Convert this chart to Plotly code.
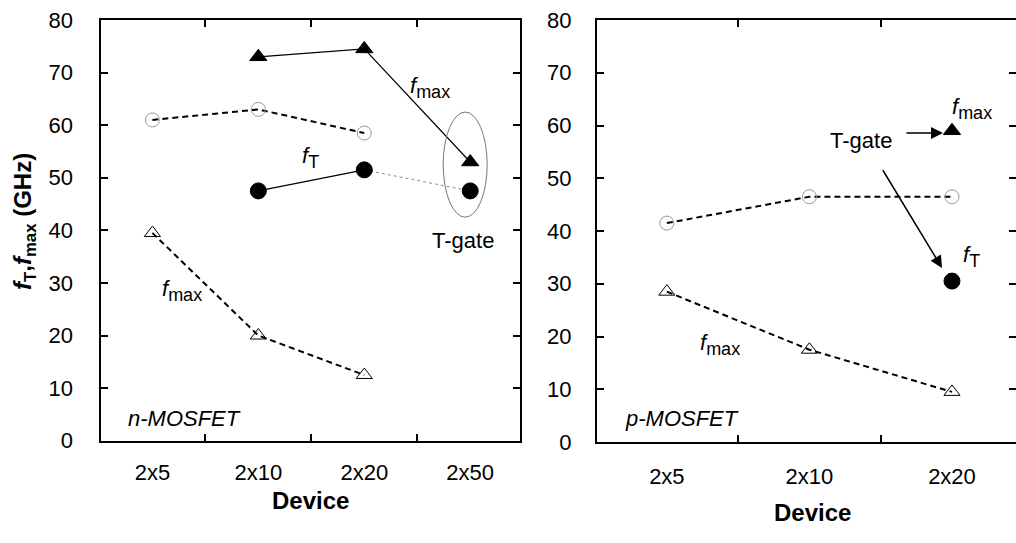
import plotly.graph_objects as go

# ---- data ----
n_devices = ["2x5", "2x10", "2x20", "2x50"]
n_ft_std_x = ["2x5", "2x10", "2x20"]
n_ft_std = [61, 63, 58.5]
n_fmax_std = [39.5, 20, 12.5]
n_fmax_t_x = ["2x10", "2x20", "2x50"]
n_fmax_t = [73, 74.5, 53]
n_ft_t_x = ["2x10", "2x20"]
n_ft_t = [47.5, 51.5]
n_ft_tg_x = ["2x20", "2x50"]
n_ft_tg = [51.5, 47.5]

p_devices = ["2x5", "2x10", "2x20"]
p_ft_std = [41.5, 46.5, 46.5]
p_fmax_std = [28.5, 17.5, 9.5]
p_tgate_x = ["2x20"]
p_fmax_t = [59]
p_ft_t = [30.5]

yticks = [0, 10, 20, 30, 40, 50, 60, 70, 80]

FONT = "Liberation Sans, Arial, Helvetica, sans-serif"
DASH = "6px,4px"
W, H = 1016, 543

fig = go.Figure()

def add(x, y, xa, ya, symbol, size, color, lw, dash, mlw=1, mcolor=None, mode="lines+markers"):
    fig.add_trace(go.Scatter(
        x=x, y=y, xaxis=xa, yaxis=ya, mode=mode,
        line=dict(color=color, width=lw, dash=dash),
        marker=dict(symbol=symbol, size=size, color=mcolor or color,
                    line=dict(width=mlw, color=mcolor or color)),
        showlegend=False, cliponaxis=False, hoverinfo="skip"))

# left panel (n-MOSFET)
add(n_ft_std_x, n_ft_std, "x", "y", "circle-open", 14, "black", 2, DASH, 1, "#9a9a9a")
add(n_ft_std_x, n_fmax_std, "x", "y", "triangle-up-open", 14, "black", 2, DASH, 1)
add(n_ft_tg_x, n_ft_tg, "x", "y", "circle", 1, "#8a8a8a", 1, "dot", mode="lines")
add(n_fmax_t_x, n_fmax_t, "x", "y", "triangle-up", 15, "black", 1.2, "solid")
add(n_ft_t_x, n_ft_t, "x", "y", "circle", 16, "black", 1.2, "solid")
add(["2x50"], [n_ft_tg[-1]], "x", "y", "circle", 16, "black", 1, "solid", mode="markers")

# right panel (p-MOSFET)
add(p_devices, p_ft_std, "x2", "y2", "circle-open", 14, "black", 2, DASH, 1, "#9a9a9a")
add(p_devices, p_fmax_std, "x2", "y2", "triangle-up-open", 14, "black", 2, DASH, 1)
add(p_tgate_x, p_fmax_t, "x2", "y2", "triangle-up", 15, "black", 1, "solid", mode="markers")
add(p_tgate_x, p_ft_t, "x2", "y2", "circle", 16, "black", 1, "solid", mode="markers")

axis_common = dict(
    showline=True, linecolor="black", linewidth=2, mirror="ticks",
    ticks="inside", ticklen=7, tickwidth=1.5, tickcolor="black",
    showgrid=False, zeroline=False, automargin=False,
    tickfont=dict(family=FONT, size=22, color="black"),
)

fig.update_layout(
    template="none",
    width=W, height=H,
    margin=dict(l=0, r=0, t=0, b=0, pad=0),
    plot_bgcolor="white", paper_bgcolor="white",
    font=dict(family=FONT, color="black"),
    xaxis=dict(domain=[100.5/W, 520/W], type="category", categoryorder="array",
               categoryarray=n_devices, range=[-0.49, 3.47], tickson="boundaries",
               ticklabelstandoff=11, anchor="y", **axis_common),
    yaxis=dict(domain=[(H-440.7)/H, (H-20)/H], range=[0, 80], tickvals=yticks,
               ticklabelstandoff=21, anchor="x", **axis_common),
    xaxis2=dict(domain=[597/W, 1.0], type="category", categoryorder="array",
                categoryarray=p_devices, range=[-0.49, 2.449], tickson="boundaries",
                ticklabelstandoff=14, anchor="y2", **axis_common),
    yaxis2=dict(domain=[(H-442)/H, (H-20)/H], range=[0, 80], tickvals=yticks,
                ticklabelstandoff=19, anchor="x2", **axis_common),
)

# ellipse around T-gate points (left)
fig.add_shape(type="circle", xref="x", yref="y", x0=2.745, x1=3.16, y0=42.5, y1=62.5,
              line=dict(color="#777777", width=1))

def label(text, x, y, xr, yr, size=22, xanchor="center", italic=False, angle=0):
    fig.add_annotation(text=text, x=x, y=y, xref=xr, yref=yr, showarrow=False,
                       xanchor=xanchor, yanchor="middle", textangle=angle,
                       font=dict(family=FONT, size=size, color="black",
                                 style="italic" if italic else "normal"))

FMAX = "<i>f</i><sub><span style='font-size:18px'>max</span></sub>"
FT = "<i>f</i><sub><span style='font-size:18px'>T</span></sub>"

label(FMAX, 2.62, 67.1, "x", "y")
label(FT, 1.49, 53.8, "x", "y")
label(FMAX, 0.283, 28.6, "x", "y")
label("T-gate", 2.93, 38.1, "x", "y")
label("n-MOSFET", -0.245, 4.3, "x", "y", xanchor="left", italic=True)

label(FMAX, 2.14, 63.3, "x2", "y2")
label(FT, 2.14, 35.1, "x2", "y2")
label(FMAX, 0.37, 18.4, "x2", "y2")
label("T-gate", 1.36, 57.2, "x2", "y2")
label("p-MOSFET", -0.309, 4.5, "x2", "y2", xanchor="left", italic=True)

# arrows (right)
fig.add_annotation(x=1.937, y=58.6, ax=1.67, ay=58.6, xref="x2", yref="y2",
                   axref="x2", ayref="y2", showarrow=True, arrowhead=2,
                   arrowsize=1.6, arrowwidth=1.5, arrowcolor="black", text="")
fig.add_annotation(x=1.93, y=33.0, ax=1.509, ay=51.8, xref="x2", yref="y2",
                   axref="x2", ayref="y2", showarrow=True, arrowhead=2,
                   arrowsize=1.6, arrowwidth=1.5, arrowcolor="black", text="")

# axis titles
label("<b><i>f</i><sub>T</sub>,<i>f</i><sub>max</sub> (GHz)</b>", 24/W, 1-222/H,
      "paper", "paper", size=24, angle=-90)
label("<b>Device</b>", 310/W, 1-500/H, "paper", "paper", size=24)
label("<b>Device</b>", 812/W, 1-512/H, "paper", "paper", size=24)

fig.write_html("out.html", config={"displayModeBar": False},
               post_script="document.body.style.margin='0';")
